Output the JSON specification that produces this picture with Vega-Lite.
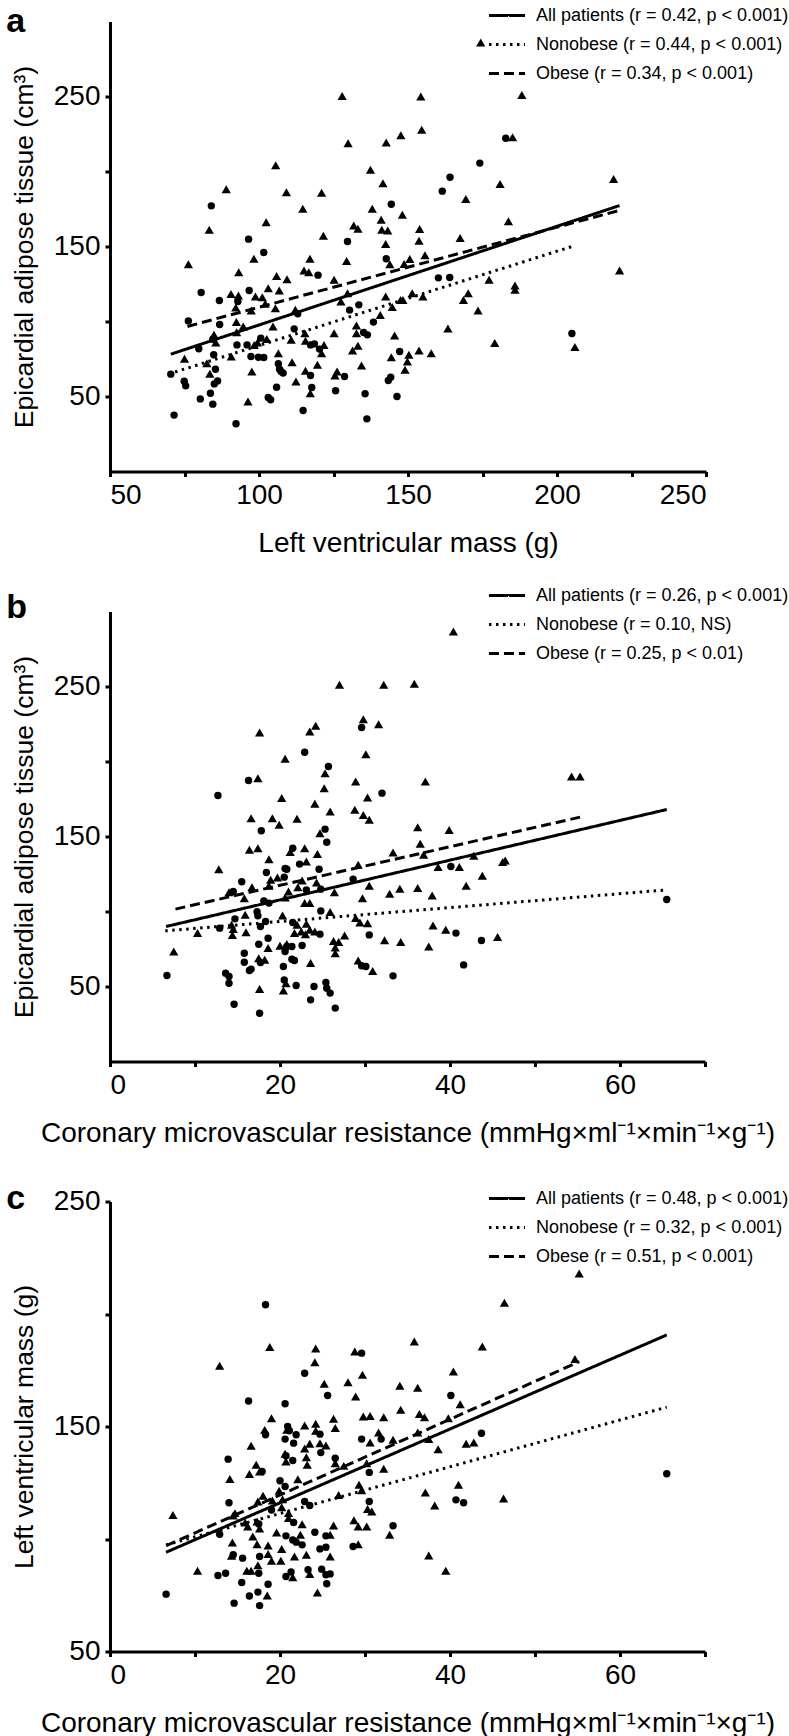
{
  "$schema": "https://vega.github.io/schema/vega-lite/v6.json",
  "background": "white",
  "padding": {"left": 6, "top": -4.5, "right": 0, "bottom": 0},
  "spacing": 140,
  "bounds": "flush",
  "resolve": {"scale": {"strokeDash": "independent", "shape": "independent", "size": "independent", "x": "independent", "y": "independent"}, "legend": {"strokeDash": "independent"}},
  "config": {
    "view": {"stroke": null},
    "font": "Liberation Sans",
    "axis": {"grid": false, "domainColor": "black", "domainWidth": 3, "tickColor": "black", "tickWidth": 3, "tickSize": 5, "labelColor": "black", "titleColor": "black", "labelFont": "Liberation Sans", "titleFont": "Liberation Sans", "titleFontWeight": "normal", "labelFontSize": 28, "titleFontSize": 28, "labelPadding": 5, "labelOverlap": false},
    "axisY": {"titlePadding": 15, "titleFontSize": 26.5},
    "axisX": {"titlePadding": 20},
    "legend": {"symbolType": "stroke", "symbolSize": 1300, "symbolStrokeWidth": 3, "symbolStrokeColor": "black", "labelFontSize": 18, "labelFont": "Liberation Sans", "labelColor": "black", "labelOffset": 9, "rowPadding": 0, "orient": "none", "labelLimit": 400},
    "title": {"anchor": "start", "frame": "bounds", "fontSize": 34, "fontWeight": "bold", "color": "black", "font": "Liberation Sans", "baseline": "alphabetic", "dx": -5}
  },
  "datasets": {
    "a_pts": [
      {"g":"O","x":127.9,"y":250.4},{"g":"O","x":154.3,"y":250},{"g":"O","x":188.2,"y":251},{"g":"O","x":154.6,"y":227.8},{"g":"O","x":129.9,"y":218.9},{"g":"O","x":142.7,"y":219.3},{"g":"O","x":147.6,"y":224.2},{"g":"N","x":182.8,"y":222.2},{"g":"O","x":185.1,"y":222.9},{"g":"O","x":105.6,"y":204.2},{"g":"O","x":137.4,"y":201.1},{"g":"N","x":174.1,"y":205.6},{"g":"N","x":164.1,"y":196.2},{"g":"N","x":161.5,"y":186.9},{"g":"O","x":180.9,"y":191.6},{"g":"O","x":141.6,"y":192.2},{"g":"O","x":169.4,"y":181.6},{"g":"O","x":89.0,"y":188.2},{"g":"O","x":109.2,"y":186.2},{"g":"O","x":121.0,"y":185.8},{"g":"O","x":114.7,"y":175.1},{"g":"O","x":138.0,"y":175.1},{"g":"N","x":84.0,"y":177.1},{"g":"N","x":144.4,"y":178.2},{"g":"O","x":148.1,"y":171.1},{"g":"O","x":102.4,"y":166.2},{"g":"O","x":83.3,"y":161.1},{"g":"O","x":141.0,"y":167.8},{"g":"O","x":131.8,"y":164.0},{"g":"O","x":133.2,"y":161.8},{"g":"O","x":141.2,"y":161.1},{"g":"O","x":143.2,"y":160.7},{"g":"O","x":153.9,"y":161.6},{"g":"O","x":183.7,"y":166.9},{"g":"N","x":96.5,"y":154.9},{"g":"O","x":121.6,"y":157.1},{"g":"O","x":153.7,"y":153.8},{"g":"N","x":129.7,"y":153.3},{"g":"O","x":142.5,"y":151.6},{"g":"O","x":167.5,"y":155.6},{"g":"N","x":101.6,"y":146.0},{"g":"O","x":98.3,"y":141.8},{"g":"O","x":117.1,"y":141.8},{"g":"O","x":129.4,"y":140.4},{"g":"N","x":142.7,"y":141.8},{"g":"O","x":143.9,"y":138.2},{"g":"O","x":155.7,"y":144.2},{"g":"O","x":150.6,"y":141.6},{"g":"O","x":148.7,"y":138.4},{"g":"O","x":76.3,"y":138.2},{"g":"O","x":93.2,"y":132.9},{"g":"O","x":115.1,"y":134.0},{"g":"O","x":116.7,"y":132.9},{"g":"N","x":119.8,"y":130.9},{"g":"O","x":105.9,"y":130.4},{"g":"O","x":109.4,"y":128.2},{"g":"O","x":125.2,"y":127.8},{"g":"N","x":160.2,"y":129.1},{"g":"N","x":164.0,"y":129.3},{"g":"O","x":177.2,"y":127.8},{"g":"O","x":185.9,"y":124.0},{"g":"O","x":185.9,"y":121.1},{"g":"N","x":80.6,"y":119.3},{"g":"N","x":96.7,"y":120.7},{"g":"O","x":103.1,"y":122.2},{"g":"O","x":106.8,"y":120.7},{"g":"O","x":90.6,"y":118.4},{"g":"O","x":93.1,"y":117.3},{"g":"O","x":98.8,"y":116.7},{"g":"O","x":101.1,"y":116.2},{"g":"N","x":86.7,"y":114.0},{"g":"N","x":92.9,"y":113.3},{"g":"O","x":102.1,"y":111.8},{"g":"O","x":105.5,"y":108.9},{"g":"O","x":92.2,"y":109.3},{"g":"O","x":97.4,"y":107.3},{"g":"O","x":127.5,"y":113.3},{"g":"O","x":129.7,"y":118.9},{"g":"O","x":142.5,"y":116.7},{"g":"O","x":144.7,"y":109.6},{"g":"O","x":147.5,"y":114.4},{"g":"O","x":148.3,"y":114.4},{"g":"O","x":151.4,"y":118.9},{"g":"O","x":155.0,"y":116.7},{"g":"O","x":170.2,"y":118.9},{"g":"O","x":168.6,"y":114.4},{"g":"O","x":173.5,"y":107.3},{"g":"N","x":133.5,"y":111.1},{"g":"N","x":130.4,"y":107.6},{"g":"O","x":112.2,"y":107.8},{"g":"N","x":113.0,"y":105.1},{"g":"O","x":140.7,"y":104.4},{"g":"N","x":138.4,"y":99.6},{"g":"O","x":92.4,"y":99.6},{"g":"N","x":86.8,"y":98.0},{"g":"N","x":76.3,"y":100.4},{"g":"O","x":94.7,"y":96.7},{"g":"O","x":104.7,"y":96.7},{"g":"O","x":132.7,"y":97.3},{"g":"N","x":111.8,"y":95.1},{"g":"O","x":84.9,"y":91.1},{"g":"O","x":92.5,"y":92.9},{"g":"O","x":115.4,"y":92.2},{"g":"O","x":125.2,"y":92.2},{"g":"N","x":135.1,"y":92.7},{"g":"N","x":136.4,"y":91.1},{"g":"O","x":132.7,"y":92.2},{"g":"O","x":145.5,"y":90.7},{"g":"O","x":163.4,"y":95.3},{"g":"O","x":85.5,"y":86.0},{"g":"N","x":84.5,"y":88.2},{"g":"N","x":100.6,"y":88.9},{"g":"O","x":102.6,"y":88.4},{"g":"O","x":110.8,"y":87.8},{"g":"O","x":115.6,"y":87.1},{"g":"N","x":117.3,"y":84.4},{"g":"N","x":118.6,"y":85.1},{"g":"O","x":121.8,"y":84.4},{"g":"N","x":120.3,"y":81.6},{"g":"O","x":121.0,"y":78.9},{"g":"N","x":92.6,"y":84.4},{"g":"N","x":96.0,"y":84.4},{"g":"O","x":98.4,"y":84.4},{"g":"O","x":99.5,"y":86.0},{"g":"N","x":79.8,"y":81.8},{"g":"O","x":133.2,"y":83.8},{"g":"O","x":131.4,"y":80.7},{"g":"O","x":179.1,"y":85.6},{"g":"N","x":147.2,"y":80.0},{"g":"O","x":150.3,"y":77.8},{"g":"O","x":153.7,"y":80.7},{"g":"O","x":157.8,"y":78.9},{"g":"O","x":144.4,"y":76.2},{"g":"O","x":149.8,"y":73.3},{"g":"O","x":149.0,"y":67.8},{"g":"N","x":84.8,"y":77.8},{"g":"O","x":90.7,"y":76.7},{"g":"O","x":75.0,"y":75.1},{"g":"O","x":106.5,"y":78.9},{"g":"N","x":97.3,"y":76.7},{"g":"N","x":99.8,"y":76.2},{"g":"N","x":101.6,"y":76.0},{"g":"N","x":106.5,"y":71.8},{"g":"O","x":111.1,"y":72.9},{"g":"O","x":119.6,"y":71.1},{"g":"O","x":134.4,"y":70.7},{"g":"N","x":85.4,"y":68.2},{"g":"O","x":83.5,"y":65.1},{"g":"O","x":82.5,"y":72.2},{"g":"N","x":70.4,"y":64.9},{"g":"O","x":97.6,"y":66.7},{"g":"N","x":106.9,"y":68.2},{"g":"N","x":107.4,"y":66.7},{"g":"N","x":108.1,"y":65.6},{"g":"O","x":115.6,"y":67.1},{"g":"O","x":126.2,"y":66.7},{"g":"O","x":125.5,"y":64.0},{"g":"N","x":117.3,"y":64.0},{"g":"N","x":128.7,"y":63.3},{"g":"N","x":144.2,"y":62.9},{"g":"N","x":143.4,"y":60.7},{"g":"N","x":74.9,"y":60.2},{"g":"N","x":75.4,"y":57.1},{"g":"N","x":86.1,"y":60.4},{"g":"N","x":85.0,"y":58.4},{"g":"O","x":112.4,"y":60.0},{"g":"N","x":105.9,"y":56.2},{"g":"N","x":117.7,"y":56.0},{"g":"O","x":117.2,"y":52.2},{"g":"N","x":83.7,"y":52.2},{"g":"N","x":80.3,"y":48.4},{"g":"N","x":103.1,"y":49.3},{"g":"N","x":103.9,"y":47.8},{"g":"O","x":96.3,"y":46.7},{"g":"N","x":125.7,"y":53.8},{"g":"N","x":135.6,"y":51.8},{"g":"N","x":146.3,"y":50.0},{"g":"N","x":84.5,"y":44.9},{"g":"N","x":114.8,"y":40.7},{"g":"N","x":71.5,"y":37.6},{"g":"N","x":92.3,"y":31.8},{"g":"N","x":136.2,"y":35.1},{"g":"O","x":174.4,"y":286},
      {"g":"N","x":205,"y":92},{"g":"O","x":206,"y":83},{"g":"O","x":219,"y":195},{"g":"O","x":221,"y":134}
    ],
    "a_fit": [
      {"fit":"All patients (r = 0.42, p < 0.001)","x":70.4,"y":78.2},{"fit":"All patients (r = 0.42, p < 0.001)","x":221,"y":177.3},
      {"fit":"Nonobese (r = 0.44, p < 0.001)","x":69.6,"y":64.9},{"fit":"Nonobese (r = 0.44, p < 0.001)","x":205,"y":150.0},
      {"fit":"Obese (r = 0.34, p < 0.001)","x":76.0,"y":96.7},{"fit":"Obese (r = 0.34, p < 0.001)","x":221,"y":174.1}
    ],
    "b_pts": [
      {"g":"O","x":40.4,"y":286.7},{"g":"O","x":27.0,"y":251.1},{"g":"O","x":32.2,"y":251.1},{"g":"O","x":35.8,"y":251.8},{"g":"O","x":29.8,"y":228.2},{"g":"N","x":29.6,"y":222.7},{"g":"O","x":31.6,"y":224.9},{"g":"O","x":17.6,"y":219.3},{"g":"O","x":23.5,"y":220.0},{"g":"O","x":24.2,"y":223.8},{"g":"N","x":22.9,"y":206.2},{"g":"O","x":20.6,"y":201.8},{"g":"O","x":30.1,"y":204.9},{"g":"N","x":25.7,"y":196.7},{"g":"O","x":25.3,"y":192.2},{"g":"O","x":17.4,"y":188.9},{"g":"N","x":16.3,"y":187.3},{"g":"O","x":28.9,"y":186.7},{"g":"O","x":37.1,"y":186.7},{"g":"O","x":25.2,"y":182.2},{"g":"N","x":12.7,"y":177.3},{"g":"N","x":32.0,"y":178.9},{"g":"O","x":20.2,"y":175.6},{"g":"O","x":30.3,"y":176.0},{"g":"O","x":24.1,"y":171.8},{"g":"O","x":25.9,"y":166.7},{"g":"O","x":28.8,"y":167.8},{"g":"O","x":29.8,"y":164.4},{"g":"O","x":30.5,"y":161.1},{"g":"O","x":16.6,"y":162.2},{"g":"O","x":19.1,"y":162.2},{"g":"O","x":19.9,"y":157.8},{"g":"O","x":22.0,"y":161.8},{"g":"O","x":36.2,"y":156.2},{"g":"O","x":39.9,"y":154.4},{"g":"N","x":17.8,"y":153.8},{"g":"N","x":25.3,"y":154.9},{"g":"O","x":24.7,"y":152.2},{"g":"N","x":25.5,"y":146.2},{"g":"O","x":36.5,"y":145.1},{"g":"O","x":16.4,"y":141.1},{"g":"O","x":17.4,"y":142.2},{"g":"N","x":21.5,"y":142.2},{"g":"O","x":21.2,"y":139.6},{"g":"O","x":22.9,"y":142.2},{"g":"O","x":24.4,"y":138.4},{"g":"O","x":33.3,"y":139.3},{"g":"O","x":36.9,"y":137.8},{"g":"O","x":18.7,"y":134.9},{"g":"N","x":22.3,"y":131.6},{"g":"O","x":23.1,"y":133.3},{"g":"O","x":42.8,"y":137.1},{"g":"O","x":12.8,"y":128.2},{"g":"N","x":24.6,"y":128.2},{"g":"N","x":20.6,"y":128.7},{"g":"N","x":20.8,"y":128.2},{"g":"O","x":29.2,"y":131.1},{"g":"O","x":38.6,"y":129.6},{"g":"N","x":40.1,"y":130.0},{"g":"O","x":41.1,"y":129.6},{"g":"O","x":43.8,"y":123.8},{"g":"N","x":18.4,"y":126.0},{"g":"O","x":19.7,"y":122.7},{"g":"N","x":20.5,"y":122.9},{"g":"O","x":18.9,"y":121.1},{"g":"N","x":15.5,"y":119.8},{"g":"O","x":22.6,"y":120.7},{"g":"N","x":28.6,"y":121.6},{"g":"O","x":24.3,"y":119.3},{"g":"O","x":18.7,"y":117.1},{"g":"O","x":16.7,"y":116.2},{"g":"O","x":22.1,"y":116.2},{"g":"N","x":23.1,"y":114.4},{"g":"N","x":24.8,"y":114.9},{"g":"O","x":26.4,"y":112.9},{"g":"O","x":30.5,"y":117.1},{"g":"O","x":41.9,"y":117.1},{"g":"O","x":14.0,"y":112.9},{"g":"N","x":14.5,"y":113.3},{"g":"O","x":21.0,"y":113.3},{"g":"O","x":20.6,"y":109.3},{"g":"O","x":15.8,"y":108.9},{"g":"O","x":32.9,"y":111.8},{"g":"O","x":34.1,"y":115.1},{"g":"O","x":36.2,"y":115.6},{"g":"O","x":37.9,"y":110.7},{"g":"O","x":29.7,"y":108.9},{"g":"N","x":18.1,"y":107.1},{"g":"N","x":18.7,"y":105.6},{"g":"O","x":22.9,"y":105.6},{"g":"O","x":23.5,"y":105.6},{"g":"N","x":24.8,"y":100.4},{"g":"O","x":25.9,"y":99.6},{"g":"O","x":15.9,"y":97.8},{"g":"N","x":17.3,"y":99.8},{"g":"N","x":17.4,"y":97.1},{"g":"O","x":20.3,"y":97.3},{"g":"O","x":28.9,"y":95.6},{"g":"O","x":29.4,"y":92.7},{"g":"O","x":30.3,"y":92.2},{"g":"N","x":14.7,"y":95.1},{"g":"O","x":14.3,"y":91.1},{"g":"N","x":12.9,"y":88.9},{"g":"O","x":14.5,"y":88.4},{"g":"O","x":14.4,"y":84.4},{"g":"O","x":16.0,"y":86.2},{"g":"N","x":17.7,"y":90.0},{"g":"N","x":18.3,"y":93.3},{"g":"N","x":21.5,"y":92.7},{"g":"O","x":22.0,"y":91.1},{"g":"O","x":23.1,"y":91.8},{"g":"O","x":22.5,"y":86.7},{"g":"O","x":23.0,"y":84.9},{"g":"O","x":23.5,"y":87.8},{"g":"N","x":24.7,"y":84.9},{"g":"O","x":24.1,"y":86.7},{"g":"O","x":21.7,"y":85.6},{"g":"O","x":10.3,"y":85.6},{"g":"O","x":38.0,"y":90.7},{"g":"O","x":39.5,"y":87.8},{"g":"N","x":40.7,"y":85.6},{"g":"N","x":30.5,"y":84.4},{"g":"N","x":18.6,"y":82.2},{"g":"N","x":17.5,"y":78.2},{"g":"O","x":20.0,"y":77.1},{"g":"O","x":20.8,"y":78.4},{"g":"N","x":20.8,"y":76.7},{"g":"N","x":21.4,"y":76.7},{"g":"N","x":22.6,"y":77.3},{"g":"O","x":18.6,"y":75.6},{"g":"N","x":20.6,"y":73.3},{"g":"O","x":26.3,"y":80.4},{"g":"O","x":26.9,"y":79.6},{"g":"O","x":27.6,"y":84.0},{"g":"O","x":26.5,"y":76.0},{"g":"O","x":26.5,"y":72.2},{"g":"O","x":32.3,"y":80.9},{"g":"O","x":34.2,"y":79.6},{"g":"O","x":37.5,"y":76.7},{"g":"N","x":43.7,"y":80.7},{"g":"N","x":15.8,"y":72.2},{"g":"N","x":15.8,"y":66.2},{"g":"O","x":17.5,"y":68.9},{"g":"N","x":17.7,"y":66.0},{"g":"O","x":18.2,"y":67.8},{"g":"N","x":16.4,"y":60.7},{"g":"N","x":16.6,"y":61.6},{"g":"N","x":20.4,"y":63.3},{"g":"N","x":21.4,"y":68.2},{"g":"N","x":21.7,"y":67.3},{"g":"O","x":23.6,"y":65.6},{"g":"O","x":7.5,"y":73.3},{"g":"O","x":29.2,"y":67.3},{"g":"N","x":29.6,"y":63.8},{"g":"N","x":30.1,"y":63.3},{"g":"O","x":30.9,"y":60.4},{"g":"N","x":33.3,"y":57.1},{"g":"N","x":41.6,"y":64.4},{"g":"N","x":6.7,"y":57.3},{"g":"N","x":13.6,"y":58.9},{"g":"N","x":14.0,"y":52.2},{"g":"N","x":14.0,"y":56.7},{"g":"O","x":17.6,"y":48.4},{"g":"N","x":20.5,"y":54.4},{"g":"O","x":20.7,"y":52.2},{"g":"O","x":20.4,"y":47.3},{"g":"N","x":21.9,"y":50.7},{"g":"N","x":24.0,"y":50.0},{"g":"N","x":25.4,"y":52.7},{"g":"N","x":25.5,"y":48.9},{"g":"N","x":25.9,"y":45.6},{"g":"N","x":23.6,"y":41.1},{"g":"N","x":14.6,"y":38.2},{"g":"N","x":26.5,"y":35.6},{"g":"N","x":17.6,"y":32.2},
      {"g":"O","x":46.2,"y":133},{"g":"O","x":46.5,"y":134},{"g":"O","x":54.3,"y":190},{"g":"O","x":55.3,"y":190},{"g":"N","x":65.5,"y":108},{"g":"O","x":45.6,"y":83}
    ],
    "b_fit": [
      {"fit":"All patients (r = 0.26, p < 0.001)","x":6.6,"y":90.0},{"fit":"All patients (r = 0.26, p < 0.001)","x":65.5,"y":168},
      {"fit":"Nonobese (r = 0.10, NS)","x":6.5,"y":87.1},{"fit":"Nonobese (r = 0.10, NS)","x":65.5,"y":114.4},
      {"fit":"Obese (r = 0.25, p < 0.01)","x":7.7,"y":101.6},{"fit":"Obese (r = 0.25, p < 0.01)","x":55.3,"y":162.9}
    ],
    "c_pts": [
      {"g":"N","x":18.3,"y":204.1},{"g":"O","x":18.8,"y":185.3},{"g":"O","x":24.2,"y":184.7},{"g":"O","x":24.1,"y":178.6},{"g":"O","x":12.9,"y":177.0},{"g":"O","x":28.8,"y":183.3},{"g":"N","x":29.6,"y":182.6},{"g":"O","x":35.8,"y":187.8},{"g":"O","x":43.8,"y":185.6},{"g":"N","x":22.9,"y":173.7},{"g":"O","x":29.7,"y":173.0},{"g":"O","x":40.4,"y":174.4},{"g":"O","x":25.2,"y":169.0},{"g":"O","x":28.0,"y":169.7},{"g":"O","x":34.1,"y":168.1},{"g":"O","x":36.2,"y":167.2},{"g":"O","x":28.9,"y":163.3},{"g":"N","x":25.6,"y":163.8},{"g":"N","x":40.1,"y":163.8},{"g":"O","x":41.2,"y":159.9},{"g":"N","x":16.3,"y":161.3},{"g":"N","x":20.6,"y":160.1},{"g":"O","x":34.2,"y":157.4},{"g":"O","x":19.0,"y":153.7},{"g":"O","x":26.3,"y":153.4},{"g":"O","x":26.5,"y":149.3},{"g":"O","x":29.8,"y":154.4},{"g":"O","x":30.6,"y":154.7},{"g":"O","x":32.2,"y":154.1},{"g":"O","x":36.4,"y":155.6},{"g":"O","x":37.0,"y":154.1},{"g":"O","x":39.8,"y":153.7},{"g":"N","x":20.9,"y":150.0},{"g":"N","x":20.6,"y":144.4},{"g":"N","x":18.3,"y":146.3},{"g":"O","x":18.2,"y":148.5},{"g":"O","x":20.8,"y":148.5},{"g":"N","x":21.1,"y":148.1},{"g":"O","x":22.9,"y":150.4},{"g":"O","x":24.2,"y":151.2},{"g":"O","x":24.2,"y":148.1},{"g":"N","x":24.7,"y":146.6},{"g":"N","x":21.9,"y":146.3},{"g":"O","x":23.5,"y":142.3},{"g":"O","x":22.9,"y":140.2},{"g":"N","x":21.6,"y":142.6},{"g":"O","x":24.7,"y":142.6},{"g":"O","x":25.4,"y":141.6},{"g":"N","x":24.8,"y":138.4},{"g":"N","x":29.6,"y":144.4},{"g":"O","x":30.6,"y":142.9},{"g":"N","x":31.9,"y":144.4},{"g":"O","x":31.6,"y":147.3},{"g":"O","x":33.3,"y":144.1},{"g":"O","x":36.2,"y":147.3},{"g":"O","x":37.5,"y":144.4},{"g":"O","x":38.6,"y":139.9},{"g":"O","x":41.9,"y":142.3},{"g":"O","x":42.8,"y":142.9},{"g":"N","x":43.7,"y":147.0},{"g":"O","x":16.6,"y":141.4},{"g":"N","x":13.9,"y":135.5},{"g":"N","x":20.7,"y":137.0},{"g":"O","x":20.7,"y":134.4},{"g":"O","x":23.1,"y":136.3},{"g":"O","x":23.2,"y":133.0},{"g":"O","x":20.6,"y":137.9},{"g":"N","x":21.5,"y":134.9},{"g":"N","x":26.5,"y":135.9},{"g":"O","x":26.5,"y":133.7},{"g":"O","x":27.5,"y":132.5},{"g":"O","x":30.2,"y":133.7},{"g":"N","x":30.5,"y":129.6},{"g":"O","x":32.2,"y":131.2},{"g":"O","x":17.2,"y":133.0},{"g":"O","x":17.6,"y":130.0},{"g":"N","x":17.9,"y":130.0},{"g":"O","x":16.4,"y":128.9},{"g":"O","x":14.1,"y":126.7},{"g":"O","x":22.1,"y":126.6},{"g":"N","x":20.0,"y":125.9},{"g":"N","x":20.6,"y":123.3},{"g":"O","x":19.9,"y":121.4},{"g":"O","x":18.0,"y":119.2},{"g":"O","x":17.4,"y":116.7},{"g":"O","x":19.1,"y":117.1},{"g":"O","x":20.3,"y":117.7},{"g":"N","x":19.0,"y":112.9},{"g":"O","x":20.2,"y":114.1},{"g":"N","x":22.9,"y":116.7},{"g":"N","x":23.5,"y":114.9},{"g":"O","x":26.9,"y":119.6},{"g":"O","x":29.3,"y":124.1},{"g":"O","x":29.6,"y":121.7},{"g":"N","x":30.5,"y":116.7},{"g":"O","x":30.3,"y":113.3},{"g":"O","x":30.8,"y":112.2},{"g":"O","x":37.1,"y":120.7},{"g":"O","x":38.2,"y":114.9},{"g":"O","x":41.0,"y":124.1},{"g":"N","x":40.7,"y":117.4},{"g":"N","x":41.6,"y":116.1},{"g":"N","x":14.0,"y":116.1},{"g":"O","x":7.4,"y":110.7},{"g":"O","x":14.5,"y":110.4},{"g":"O","x":14.7,"y":111.5},{"g":"O","x":15.9,"y":107.3},{"g":"O","x":16.2,"y":105.6},{"g":"O","x":17.3,"y":107.8},{"g":"O","x":17.6,"y":104.7},{"g":"N","x":17.5,"y":106.7},{"g":"O","x":21.0,"y":111.5},{"g":"O","x":21.0,"y":109.3},{"g":"N","x":21.6,"y":107.3},{"g":"O","x":22.6,"y":106.6},{"g":"N","x":12.9,"y":102.1},{"g":"O","x":19.6,"y":102.9},{"g":"N","x":20.7,"y":101.4},{"g":"O","x":22.4,"y":101.9},{"g":"N","x":24.1,"y":103.0},{"g":"O","x":26.3,"y":106.0},{"g":"O","x":25.9,"y":101.9},{"g":"N","x":25.4,"y":101.4},{"g":"O","x":28.7,"y":108.3},{"g":"O","x":29.2,"y":105.6},{"g":"O","x":30.2,"y":105.6},{"g":"N","x":33.3,"y":105.9},{"g":"O","x":32.9,"y":101.9},{"g":"O","x":16.8,"y":101.1},{"g":"O","x":17.3,"y":97.7},{"g":"O","x":14.4,"y":98.4},{"g":"N","x":21.5,"y":99.6},{"g":"N","x":21.9,"y":98.6},{"g":"N","x":22.6,"y":97.4},{"g":"O","x":18.6,"y":97.1},{"g":"O","x":20.2,"y":95.6},{"g":"N","x":24.7,"y":95.6},{"g":"N","x":25.4,"y":96.3},{"g":"O","x":29.2,"y":97.7},{"g":"N","x":28.6,"y":96.7},{"g":"O","x":37.5,"y":92.7},{"g":"O","x":39.5,"y":85.9},{"g":"N","x":14.5,"y":93.0},{"g":"O","x":14.3,"y":92.6},{"g":"N","x":15.6,"y":91.5},{"g":"O","x":18.6,"y":93.3},{"g":"O","x":19.0,"y":90.3},{"g":"O","x":20.1,"y":90.3},{"g":"N","x":17.6,"y":92.2},{"g":"O","x":21.7,"y":92.2},{"g":"O","x":23.1,"y":93.0},{"g":"O","x":25.9,"y":92.2},{"g":"N","x":23.3,"y":86.3},{"g":"O","x":23.5,"y":84.4},{"g":"N","x":24.9,"y":86.6},{"g":"N","x":25.9,"y":84.5},{"g":"N","x":25.4,"y":84.1},{"g":"N","x":21.3,"y":85.3},{"g":"O","x":21.5,"y":83.0},{"g":"N","x":20.7,"y":83.3},{"g":"O","x":10.3,"y":85.9},{"g":"N","x":12.7,"y":83.8},{"g":"N","x":13.6,"y":84.8},{"g":"O","x":16.1,"y":85.9},{"g":"O","x":16.6,"y":85.9},{"g":"N","x":17.5,"y":84.8},{"g":"O","x":17.4,"y":88.3},{"g":"N","x":25.5,"y":80.1},{"g":"N","x":15.5,"y":80.7},{"g":"N","x":18.6,"y":79.9},{"g":"O","x":24.4,"y":76.2},{"g":"O","x":18.5,"y":74.9},{"g":"N","x":16.4,"y":74.7},{"g":"N","x":17.4,"y":76.4},{"g":"N","x":6.6,"y":75.5},{"g":"N","x":14.6,"y":71.5},{"g":"N","x":17.6,"y":70.4},
      {"g":"O","x":46.4,"y":205},{"g":"O","x":46.3,"y":118},{"g":"O","x":55.2,"y":218},{"g":"O","x":54.7,"y":180},{"g":"N","x":65.5,"y":129}
    ],
    "c_fit": [
      {"fit":"All patients (r = 0.48, p < 0.001)","x":6.6,"y":94.1},{"fit":"All patients (r = 0.48, p < 0.001)","x":65.5,"y":190.7},
      {"fit":"Nonobese (r = 0.32, p < 0.001)","x":6.6,"y":97.4},{"fit":"Nonobese (r = 0.32, p < 0.001)","x":65.5,"y":158.6},
      {"fit":"Obese (r = 0.51, p < 0.001)","x":6.6,"y":97.0},{"fit":"Obese (r = 0.51, p < 0.001)","x":55.2,"y":178.8}
    ]
  },
  "vconcat": [
    {
      "title": {"text": "a", "offset": -43.5},
      "width": 596, "height": 450,
      "layer": [
        {
          "data": {"name": "a_pts"},
          "mark": {"type": "point", "filled": true, "opacity": 1, "color": "black"},
          "encoding": {
            "x": {"field": "x", "type": "quantitative", "scale": {"domain": [50, 250], "nice": false, "zero": false}, "axis": {"title": "Left ventricular mass (g)", "values": [50, 75, 100, 125, 150, 175, 200, 225, 250], "labelExpr": "datum.value % 50 == 0 ? datum.label : ''"}},
            "y": {"field": "y", "type": "quantitative", "scale": {"domain": [0, 300], "nice": false, "zero": false}, "axis": {"title": "Epicardial adipose tissue (cm³)", "values": [50, 100, 150, 200, 250], "labelExpr": "datum.value % 100 == 50 ? datum.label : ''"}},
            "shape": {"field": "g", "type": "nominal", "scale": {"domain": ["N", "O"], "range": ["circle", "triangle-up"]}, "legend": null},
            "size": {"field": "g", "type": "nominal", "scale": {"domain": ["N", "O"], "range": [55, 85]}, "legend": null}
          }
        },
        {
          "data": {"name": "a_fit"},
          "mark": {"type": "line", "color": "black", "strokeWidth": 3},
          "encoding": {
            "x": {"field": "x", "type": "quantitative"},
            "y": {"field": "y", "type": "quantitative"},
            "strokeDash": {"field": "fit", "type": "nominal", "scale": {"domain": ["All patients (r = 0.42, p < 0.001)", "Nonobese (r = 0.44, p < 0.001)", "Obese (r = 0.34, p < 0.001)"], "range": [[1, 0], [2.5, 4.5], [10, 5]]}, "legend": {"title": null, "legendX": 377, "legendY": -26, "rowPadding": 0}}
          }
        }
      ]
    },
    {
      "title": {"text": "b", "offset": -49.5},
      "width": 595, "height": 450,
      "layer": [
        {
          "data": {"name": "b_pts"},
          "mark": {"type": "point", "filled": true, "opacity": 1, "color": "black"},
          "encoding": {
            "x": {"field": "x", "type": "quantitative", "scale": {"domain": [0, 70], "nice": false, "zero": false}, "axis": {"title": "Coronary microvascular resistance (mmHg×ml⁻¹×min⁻¹×g⁻¹)", "values": [0, 10, 20, 30, 40, 50, 60, 70], "labelExpr": "datum.value % 20 == 0 ? datum.label : ''"}},
            "y": {"field": "y", "type": "quantitative", "scale": {"domain": [0, 300], "nice": false, "zero": false}, "axis": {"title": "Epicardial adipose tissue (cm³)", "values": [50, 100, 150, 200, 250], "labelExpr": "datum.value % 100 == 50 ? datum.label : ''"}},
            "shape": {"field": "g", "type": "nominal", "scale": {"domain": ["N", "O"], "range": ["circle", "triangle-up"]}, "legend": null},
            "size": {"field": "g", "type": "nominal", "scale": {"domain": ["N", "O"], "range": [55, 85]}, "legend": null}
          }
        },
        {
          "data": {"name": "b_fit"},
          "mark": {"type": "line", "color": "black", "strokeWidth": 3},
          "encoding": {
            "x": {"field": "x", "type": "quantitative"},
            "y": {"field": "y", "type": "quantitative"},
            "strokeDash": {"field": "fit", "type": "nominal", "scale": {"domain": ["All patients (r = 0.26, p < 0.001)", "Nonobese (r = 0.10, NS)", "Obese (r = 0.25, p < 0.01)"], "range": [[1, 0], [2.5, 4.5], [10, 5]]}, "legend": {"title": null, "legendX": 377, "legendY": -36, "rowPadding": -1}}
          }
        }
      ]
    },
    {
      "title": {"text": "c", "offset": -37},
      "width": 595, "height": 450,
      "layer": [
        {
          "data": {"name": "c_pts"},
          "mark": {"type": "point", "filled": true, "opacity": 1, "color": "black"},
          "encoding": {
            "x": {"field": "x", "type": "quantitative", "scale": {"domain": [0, 70], "nice": false, "zero": false}, "axis": {"title": "Coronary microvascular resistance (mmHg×ml⁻¹×min⁻¹×g⁻¹)", "values": [0, 10, 20, 30, 40, 50, 60, 70], "labelExpr": "datum.value % 20 == 0 ? datum.label : ''"}},
            "y": {"field": "y", "type": "quantitative", "scale": {"domain": [50, 250], "nice": false, "zero": false}, "axis": {"title": "Left ventricular mass (g)", "values": [50, 100, 150, 200, 250], "labelExpr": "datum.value % 100 == 50 ? datum.label : ''"}},
            "shape": {"field": "g", "type": "nominal", "scale": {"domain": ["N", "O"], "range": ["circle", "triangle-up"]}, "legend": null},
            "size": {"field": "g", "type": "nominal", "scale": {"domain": ["N", "O"], "range": [55, 85]}, "legend": null}
          }
        },
        {
          "data": {"name": "c_fit"},
          "mark": {"type": "line", "color": "black", "strokeWidth": 3},
          "encoding": {
            "x": {"field": "x", "type": "quantitative"},
            "y": {"field": "y", "type": "quantitative"},
            "strokeDash": {"field": "fit", "type": "nominal", "scale": {"domain": ["All patients (r = 0.48, p < 0.001)", "Nonobese (r = 0.32, p < 0.001)", "Obese (r = 0.51, p < 0.001)"], "range": [[1, 0], [2.5, 4.5], [10, 5]]}, "legend": {"title": null, "legendX": 377, "legendY": -23, "rowPadding": -2.5}}
          }
        }
      ]
    }
  ]
}
